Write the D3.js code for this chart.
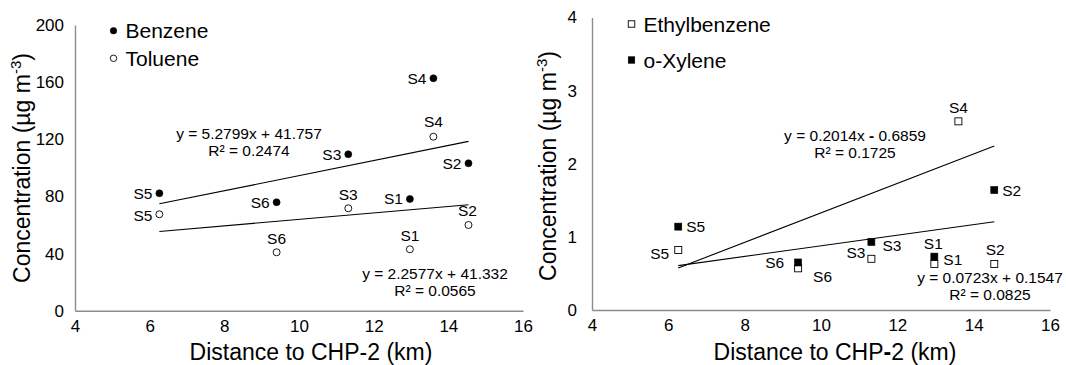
<!DOCTYPE html>
<html>
<head>
<meta charset="utf-8">
<script src="https://cdn.jsdelivr.net/npm/d3@7/dist/d3.min.js"></script>
<style>
  html, body { margin: 0; padding: 0; background: #fff; }
  svg { display: block; font-family: "Liberation Sans", Arial, sans-serif; }
</style>
</head>
<body>
<svg id="chart" width="1066" height="365"></svg>
<script>
// Sampling sites and their distance to CHP-2 (km)
const sites = ["S1", "S2", "S3", "S4", "S5", "S6"];
const distance = [12.97, 14.54, 11.32, 13.60, 6.26, 9.40];

// Concentrations (µg m-3) per site, same order as `sites`
const benzene = [78.2, 103.2, 109.5, 162.7, 82.2, 75.9];
const toluene = [43.0, 60.0, 71.7, 121.8, 67.5, 40.9];
const ethylbenzene = [0.63, 0.63, 0.70, 2.58, 0.82, 0.57];
const oXylene = [0.73, 1.64, 0.93, null, 1.14, 0.65];

// Linear fits: [slope, intercept, R²]
const benzeneFit = [5.2799, 41.757, 0.2474];
const tolueneFit = [2.2577, 41.332, 0.0565];
const oXyleneFit = [0.2014, -0.6859, 0.1725];
const ethylbenzeneFit = [0.0723, 0.1547, 0.0825];

// Axis ticks
const xTicks = [4, 6, 8, 10, 12, 14, 16];
const leftYTicks = [0, 40, 80, 120, 160, 200];
const rightYTicks = [0, 1, 2, 3, 4];

const svg = d3.select("#chart");
const AXIS = "#8c8c8c";

// Point label placement (dx, dy, anchor) per site
const P = (dx, dy, a) => ({dx, dy, a});
const benzeneLbl = [P(-7, 0, "end"), P(-7, 0, "end"), P(-7, 0, "end"), P(-7, 0, "end"), P(-7, 0, "end"), P(-7, 0, "end")];
const tolueneLbl = [P(0, -14, "middle"), P(-1, -14, "middle"), P(0, -14, "middle"), P(0, -15, "middle"), P(-7, 1, "end"), P(0, -14, "middle")];
const ethylLbl = [P(-1, -20, "middle"), P(1, -14, "middle"), P(-6, -6, "end"), P(0, -14, "middle"), P(-9, 4, "end"), P(15, 8, "start")];
const xyleneLbl = [P(9, 3, "start"), P(8, 0, "start"), P(11, 4, "start"), P(0, 0, "start"), P(8, 0, "start"), P(-14, 0, "end")];

function panel(cfg) {
  const g = svg.append("g");
  const x = d3.scaleLinear().domain([4, 16]).range(cfg.xRange);
  const y = d3.scaleLinear().domain(cfg.yDomain).range(cfg.yRange);

  // axes
  const xa = g.append("g").attr("transform", `translate(0,${cfg.yRange[0]})`)
    .call(d3.axisBottom(x).tickValues(xTicks).tickSize(0).tickPadding(9).tickFormat(d3.format("d")));
  const ya = g.append("g").attr("transform", `translate(${cfg.xRange[0]},0)`)
    .call(d3.axisLeft(y).tickValues(cfg.yTicks).tickSize(0).tickPadding(cfg.yPad).tickFormat(d3.format("d")));
  [xa, ya].forEach(a => {
    a.select(".domain").attr("stroke", AXIS).attr("stroke-width", 1.4);
    a.selectAll("text").attr("font-size", 17).attr("fill", "#000")
      .attr("font-family", "Liberation Sans, Arial, sans-serif");
  });

  // axis titles
  const xt = g.append("text").attr("x", cfg.xTitleX).attr("y", 360)
    .attr("text-anchor", "middle").attr("font-size", 23).attr("fill", "#000");
  xt.append("tspan").text("Distance to CHP");
  xt.append("tspan").attr("font-weight", cfg.boldDash ? "bold" : "normal").text("-");
  xt.append("tspan").text("2 (km)");

  const yt = g.append("text")
    .attr("transform", `translate(${cfg.yTitleX},${cfg.yTitleY}) rotate(-90)`)
    .attr("text-anchor", "middle").attr("font-size", 23).attr("fill", "#000");
  yt.append("tspan").text("Concentration (µg m");
  yt.append("tspan").attr("font-size", 15).attr("dy", -9).text("-3");
  yt.append("tspan").attr("dy", 9).text(")");

  // trend lines from the fitted equations, spanning the sampled distances
  cfg.series.forEach(s => {
    const xs = distance.filter((d, i) => s.values[i] != null);
    const ext = d3.extent(xs);
    const fit = s.fit;
    g.append("path")
      .attr("d", d3.line().x(d => x(d)).y(d => y(fit[0] * d + fit[1]))(ext))
      .attr("stroke", "#000").attr("stroke-width", 1.1).attr("fill", "none");

    // equation label
    const sign = fit[1] < 0 ? "-" : "+";
    const eq = g.append("text").attr("x", s.eqPos[0]).attr("y", s.eqPos[1])
      .attr("text-anchor", "middle").attr("font-size", 15.5).attr("fill", "#000");
    eq.append("tspan").text(`y = ${fit[0]}x `);
    eq.append("tspan").attr("font-weight", fit[1] < 0 ? "bold" : "normal").text(sign);
    eq.append("tspan").text(` ${Math.abs(fit[1])}`);
    g.append("text").attr("x", s.eqPos[0]).attr("y", s.eqPos[1] + 17)
      .attr("text-anchor", "middle").attr("font-size", 15.5).attr("fill", "#000")
      .text(`R² = ${fit[2]}`);
  });

  // points and site labels
  cfg.series.forEach(s => {
    const pts = sites.map((name, i) => ({name, d: distance[i], v: s.values[i], lbl: s.labels[i]}))
      .filter(p => p.v != null);
    pts.forEach(p => {
      const cx = x(p.d), cy = y(p.v);
      drawMarker(g, s.marker, cx, cy, 7);
      g.append("text").attr("x", cx + p.lbl.dx).attr("y", cy + p.lbl.dy)
        .attr("dy", "0.35em").attr("text-anchor", p.lbl.a)
        .attr("font-size", 15.5).attr("fill", "#000").text(p.name);
    });
  });

  // legend
  cfg.series.forEach((s, i) => {
    const ly = cfg.legendY[i];
    drawMarker(g, s.marker, cfg.legendX, ly, 6.5);
    g.append("text").attr("x", cfg.legendX + 12).attr("y", ly).attr("dy", "0.36em")
      .attr("font-size", 21).attr("fill", "#000").text(s.name);
  });
}

function drawMarker(g, type, cx, cy, size) {
  if (type === "filledCircle" || type === "openCircle") {
    g.append("circle").attr("cx", cx).attr("cy", cy).attr("r", size / 2)
      .attr("fill", type === "filledCircle" ? "#000" : "#fff")
      .attr("stroke", "#000").attr("stroke-width", type === "filledCircle" ? 0.6 : 0.9);
  } else {
    const sw = type === "filledSquare" ? 0.6 : 0.9;
    g.append("rect").attr("x", cx - size / 2).attr("y", cy - size / 2)
      .attr("width", size).attr("height", size)
      .attr("fill", type === "filledSquare" ? "#000" : "#fff")
      .attr("stroke", "#000").attr("stroke-width", sw);
  }
}

panel({
  xRange: [75, 523], yDomain: [0, 200], yRange: [310.7, 25], yTicks: leftYTicks, yPad: 11,
  xTitleX: 311, yTitleX: 30, yTitleY: 168, boldDash: false,
  legendX: 113.5, legendY: [30.7, 58.3],
  series: [
    {name: "Benzene", values: benzene, fit: benzeneFit, marker: "filledCircle", labels: benzeneLbl, eqPos: [249, 139]},
    {name: "Toluene", values: toluene, fit: tolueneFit, marker: "openCircle", labels: tolueneLbl, eqPos: [435, 279]}
  ]
});

panel({
  xRange: [592, 1050], yDomain: [0, 4], yRange: [310, 17.5], yTicks: rightYTicks, yPad: 15,
  xTitleX: 835, yTitleX: 556, yTitleY: 166, boldDash: true,
  legendX: 631.5, legendY: [24, 60],
  series: [
    {name: "Ethylbenzene", values: ethylbenzene, fit: ethylbenzeneFit, marker: "openSquare", labels: ethylLbl, eqPos: [990, 282.5]},
    {name: "o-Xylene", values: oXylene, fit: oXyleneFit, marker: "filledSquare", labels: xyleneLbl, eqPos: [855, 141]}
  ]
});
</script>
</body>
</html>
